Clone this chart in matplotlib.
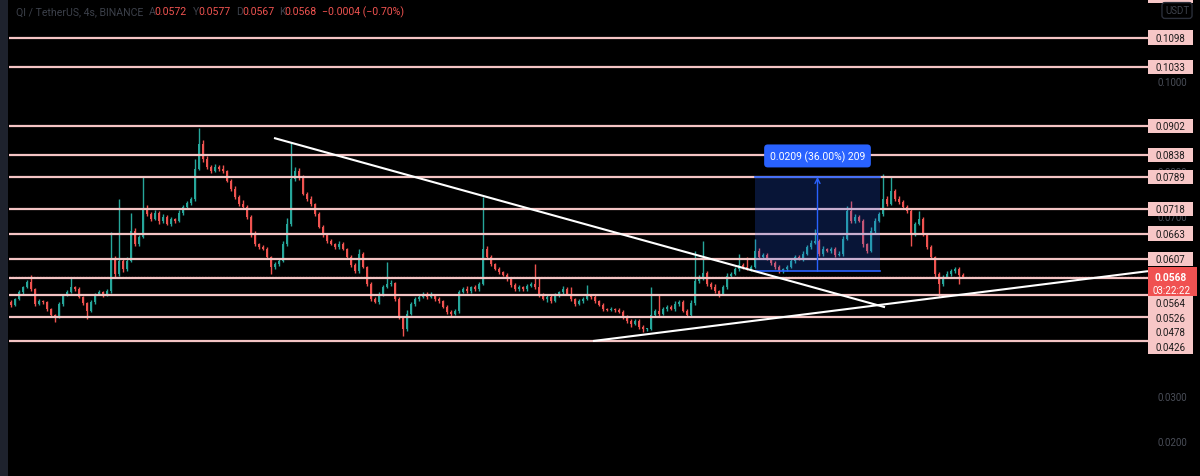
import matplotlib
matplotlib.use("Agg")
import matplotlib.pyplot as plt
import numpy as np
from matplotlib.patches import Rectangle

# --- data (prices in units of 0.0001 USDT) -------------------------------
FIRST_OPEN = 512
CLOSE = [
    505, 518, 534, 545, 556, 540, 507, 514, 512, 496,
    483, 478, 507, 527, 534, 545, 540, 523, 509, 492,
    512, 529, 534, 527, 536, 607, 574, 603, 585, 603,
    669, 640, 656, 718, 707, 696, 709, 691, 700, 685,
    696, 691, 709, 722, 731, 740, 807, 862, 829, 811,
    802, 811, 807, 802, 780, 762, 745, 729, 722, 700,
    662, 640, 634, 629, 611, 589, 596, 603, 640, 685,
    784, 802, 789, 751, 740, 729, 707, 678, 660, 647,
    640, 634, 640, 629, 611, 594, 580, 618, 589, 552,
    518, 512, 529, 545, 552, 554, 518, 478, 452, 485,
    507, 518, 523, 529, 523, 527, 518, 514, 501, 490,
    485, 492, 534, 540, 536, 545, 540, 552, 629, 611,
    596, 585, 578, 572, 563, 549, 540, 545, 540, 547,
    552, 545, 527, 518, 523, 514, 527, 534, 540, 529,
    518, 507, 514, 518, 527, 523, 514, 505, 496, 494,
    496, 494, 490, 478, 470, 463, 470, 456, 452, 452,
    483, 492, 485, 496, 501, 496, 507, 512, 492, 483,
    509, 558, 563, 576, 552, 545, 536, 529, 545, 569,
    574, 585, 594, 589, 585, 589, 625, 611, 616, 607,
    598, 589, 580, 585, 589, 603, 611, 607, 618, 634,
    643, 647, 618, 629, 625, 629, 616, 618, 651, 714,
    691, 700, 691, 640, 625, 669, 691, 707, 740, 729,
    758, 740, 733, 722, 714, 662, 685, 696, 662, 634,
    611, 574, 552, 567, 574, 580, 585, 572, 568,
]
WICK_UP = [
    4, 3, 5, 3, 4, 15, 3, 4, 3, 2,
    3, 2, 4, 3, 5, 22, 3, 4, 2, 3,
    4, 3, 5, 3, 4, 60, 6, 137, 5, 8,
    40, 6, 5, 73, 8, 4, 6, 5, 7, 4,
    5, 3, 6, 4, 5, 4, 22, 36, 8, 6,
    5, 6, 4, 8, 3, 5, 6, 4, 9, 5,
    4, 6, 3, 5, 4, 3, 5, 4, 6, 12,
    82, 8, 6, 4, 5, 6, 3, 4, 5, 3,
    4, 3, 6, 4, 3, 5, 3, 11, 4, 3,
    3, 4, 5, 4, 48, 6, 3, 4, 3, 8,
    5, 4, 3, 5, 4, 6, 3, 4, 3, 3,
    4, 3, 5, 4, 6, 3, 4, 5, 116, 6,
    5, 3, 4, 3, 4, 3, 5, 4, 3, 4,
    5, 44, 20, 4, 3, 5, 4, 3, 6, 4,
    15, 3, 4, 5, 22, 3, 4, 3, 5, 3,
    4, 3, 4, 3, 5, 3, 4, 3, 4, 3,
    62, 5, 37, 4, 5, 3, 6, 4, 3, 5,
    6, 67, 8, 71, 5, 4, 6, 3, 5, 6,
    4, 5, 24, 5, 22, 4, 26, 6, 5, 4,
    3, 4, 5, 3, 4, 6, 4, 5, 6, 4,
    5, 26, 4, 6, 3, 5, 4, 6, 8, 11,
    22, 6, 5, 4, 3, 8, 6, 5, 55, 6,
    31, 5, 6, 4, 5, 6, 5, 17, 4, 3,
    4, 3, 5, 4, 6, 5, 4, 5, 5,
]
WICK_DN = [
    4, 3, 3, 4, 3, 4, 5, 3, 4, 4,
    3, 11, 3, 4, 3, 3, 4, 3, 5, 18,
    3, 4, 3, 4, 3, 4, 9, 5, 6, 4,
    3, 5, 4, 3, 4, 5, 3, 6, 4, 3,
    4, 5, 3, 4, 3, 4, 5, 3, 6, 5,
    4, 3, 5, 4, 3, 4, 5, 4, 3, 5,
    6, 4, 5, 3, 4, 15, 4, 5, 3, 4,
    5, 4, 6, 3, 4, 5, 4, 3, 5, 4,
    3, 4, 5, 3, 4, 5, 3, 4, 3, 5,
    4, 3, 4, 5, 3, 4, 4, 5, 16, 4,
    3, 4, 5, 3, 4, 3, 4, 5, 3, 4,
    5, 3, 4, 3, 4, 5, 3, 4, 3, 4,
    4, 3, 5, 3, 4, 5, 3, 4, 3, 4,
    3, 4, 5, 3, 6, 4, 3, 4, 5, 3,
    4, 5, 3, 4, 3, 4, 5, 3, 4, 3,
    3, 4, 3, 5, 4, 6, 3, 4, 7, 4,
    3, 4, 5, 3, 4, 3, 4, 5, 3, 4,
    4, 3, 5, 3, 4, 5, 4, 6, 3, 4,
    4, 3, 5, 4, 3, 4, 3, 5, 4, 3,
    4, 5, 3, 4, 5, 3, 4, 3, 4, 3,
    4, 3, 5, 4, 3, 4, 5, 3, 4, 3,
    4, 5, 3, 6, 4, 3, 4, 3, 4, 5,
    3, 4, 3, 4, 5, 26, 4, 3, 4, 5,
    4, 6, 29, 4, 3, 4, 3, 20, 1,
]

LEVELS = [0.1192, 0.1098, 0.1033, 0.0902, 0.0838, 0.0789, 0.0718,
          0.0663, 0.0607, 0.0564, 0.0526, 0.0478, 0.0426]
AXIS_TICKS = [0.02, 0.03, 0.07, 0.08, 0.10]   # the ones not hidden by level labels
LAST_PRICE = 0.0568
COUNTDOWN = "03:22:22"

HEADER = "QI / TetherUS, 4s, BINANCE"
OHLC_KEYS = ["A", "Y", "D", "K"]
OHLC_VALUES = ["0.0572", "0.0577", "0.0567", "0.0568"]
CHANGE = "\u22120.0004 (\u22120.70%)"

# price range measurement
RANGE_BARS = (186, 217.25)
RANGE_PRICES = (0.0580, 0.0789)
RANGE_TEXT = "0.0209 (36.00%) 209"

# trend lines, (bar index, price)
DOWN_LINE = [(65.75, 0.08754), (218.5, 0.0500)]
UP_LINE = [(145.5, 0.0425), (284.25, 0.0580)]

# --- style ----------------------------------------------------------------
BG = "#000000"
UP = "#26a69a"
DOWN = "#ef5350"
LEVEL = "#f4c4c4"
LABEL_BG = "#f7c7c7"
BLUE = "#2962ff"
DIM = "#3c404a"
FONT = ["Roboto", "DejaVu Sans"]
W, H = 1200, 477
YMIN, YMAX = 0.012558, 0.118372

fig = plt.figure(figsize=(W / 100, H / 100), dpi=100, facecolor=BG)
ax = fig.add_axes([9 / W, 0, 1139 / W, 1])
ax.set_facecolor(BG)
ax.set_xlim(-0.5, 284.25)
ax.set_ylim(YMIN, YMAX)
ax.axis("off")

close = np.array(CLOSE) / 1e4
open_ = np.r_[FIRST_OPEN, CLOSE[:-1]] / 1e4
high = np.maximum(open_, close) + np.array(WICK_UP) / 1e4
low = np.minimum(open_, close) - np.array(WICK_DN) / 1e4
x = np.arange(len(close))
colors = np.where(close >= open_, UP, DOWN)

ax.vlines(x, low, high, colors=colors, linewidth=1.0, zorder=3)
ax.bar(x, np.maximum(np.abs(close - open_), 0.00008), bottom=np.minimum(open_, close),
       width=0.74, color=colors, linewidth=0, zorder=3)

# horizontal levels + last price dotted line
for lvl in LEVELS:
    ax.axhline(lvl, color=LEVEL, linewidth=1.6, zorder=4)
ax.axhline(LAST_PRICE, color=DOWN, linewidth=1.0, linestyle=(0, (1, 1.2)), alpha=0.6, zorder=2)

# trend lines
for line in (DOWN_LINE, UP_LINE):
    xs, ys = zip(*line)
    ax.plot(xs, ys, color="white", linewidth=1.5, zorder=5, solid_capstyle="butt")

# price range tool
x0, x1 = RANGE_BARS
p0, p1 = RANGE_PRICES
ax.add_patch(Rectangle((x0, p0), x1 - x0, p1 - p0, facecolor=BLUE, alpha=0.22,
                       edgecolor="none", zorder=4.5))
ax.plot([x0, x1], [p0, p0], color=BLUE, linewidth=1.2, zorder=4.6)
ax.plot([x0, x1], [p1, p1], color=BLUE, linewidth=1.2, zorder=4.6)
mid = (x0 + x1) / 2
ax.annotate("", xy=(mid, p1), xytext=(mid, p0),
            arrowprops=dict(arrowstyle="->", color=BLUE, lw=1.0, mutation_scale=9,
                            shrinkA=0, shrinkB=0), zorder=4.7)
px = H / (YMAX - YMIN)  # pixels per price unit
ax.text(mid, p1 + 21 / px, RANGE_TEXT, ha="center", va="center", color="white",
        fontsize=7.5, family=FONT, zorder=6,
        bbox=dict(boxstyle="round,pad=0.55,rounding_size=0.35", fc=BLUE, ec="none"))

# --- price axis -------------------------------------------------------------
ax2 = fig.add_axes([1148 / W, 0, 52 / W, 1], sharey=ax)
ax2.set_facecolor(BG)
ax2.set_xlim(0, 52)
ax2.axis("off")
for t in AXIS_TICKS:
    ax2.text(24, t, f"{t:.4f}", ha="center", va="center", color="#4a4e58",
             fontsize=7, family=FONT, zorder=1)

lab_h = 14.6 / px
items = [(lvl, lab_h / 2, lab_h / 2, "level") for lvl in LEVELS]
items.append((LAST_PRICE, 9.6 / px, 19.4 / px, "last"))
items.sort(key=lambda it: -it[0])
prev_bottom = np.inf
for price, up_off, dn_off, kind in items:
    c = price
    if c + up_off > prev_bottom:
        c = prev_bottom - up_off
    prev_bottom = c - dn_off
    if kind == "last":
        ax2.add_patch(Rectangle((0, c - dn_off), 49, up_off + dn_off, facecolor="#f05151",
                                edgecolor="none", zorder=5))
        ax2.text(22.5, c, f"{LAST_PRICE:.4f}", ha="center", va="center", color="white",
                 fontsize=7.3, family=FONT, fontweight="bold", zorder=6)
        ax2.text(23.5, c - 13 / px, COUNTDOWN, ha="center", va="center", color="white",
                 fontsize=7, family=FONT, zorder=6)
    else:
        ax2.add_patch(Rectangle((0, c - dn_off), 45, up_off + dn_off, facecolor=LABEL_BG,
                                edgecolor="none", zorder=3))
        ax2.text(22.5, c, f"{price:.4f}", ha="center", va="center", color="#1b1b1b",
                 fontsize=7, family=FONT, zorder=4)

fig.text(1177 / W, 1 - 11.5 / H, "USDT", ha="center", va="center", color="#3e424c",
         fontsize=7, family=FONT,
         bbox=dict(boxstyle="round,pad=0.3,rounding_size=0.3", fc=BG, ec="#2a2e39", lw=1))

# left toolbar strip
fig.patches.append(Rectangle((0, 0), 8 / W, 1, transform=fig.transFigure,
                             facecolor="#1e222d", edgecolor="none"))

# --- header -------------------------------------------------------------------
hy = 1 - 12 / H
fig.text(16 / W, hy, HEADER, ha="left", va="center", color=DIM, fontsize=7.6, family=FONT)
key_x = [149, 193, 236, 279]
val_x = [154, 198, 242, 284]
for k, v, kx, vx in zip(OHLC_KEYS, OHLC_VALUES, key_x, val_x):
    fig.text(kx / W, hy, k, ha="left", va="center", color=DIM, fontsize=7.6, family=FONT)
    fig.text(vx / W, hy, v, ha="left", va="center", color=DOWN, fontsize=7.6, family=FONT)
fig.text(322 / W, hy, CHANGE, ha="left", va="center", color=DOWN, fontsize=7.6, family=FONT)

fig.savefig("out.png", dpi=100, facecolor=BG)
